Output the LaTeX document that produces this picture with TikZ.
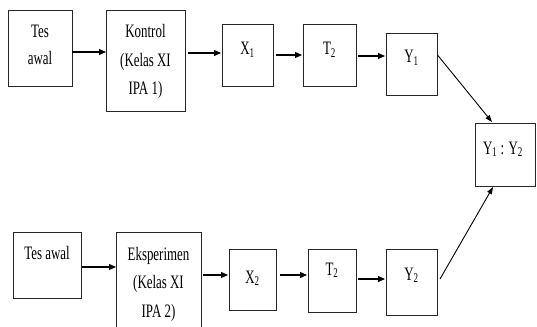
\documentclass[tikz,border=0pt]{standalone}
\usepackage{fontspec}
\setmainfont{Liberation Serif}[FakeStretch=0.68]
\usetikzlibrary{arrows.meta}
\begin{document}
\begin{tikzpicture}[x=1pt,y=-1pt,
  boxstyle/.style={draw=black!85,line width=0.9pt},
  lbl/.style={inner sep=0pt,anchor=base,font=\fontsize{19}{28}\selectfont},
  conn/.style={line width=1.1pt,-{Triangle[length=7pt,width=6pt]}},
  slant/.style={line width=0.9pt,-{Triangle[length=7pt,width=5pt]}}]
\useasboundingbox (0,0) rectangle (537,326);
\clip (0,0) rectangle (537,326);
% top row
\draw[boxstyle] (8,10) rectangle (72,86);
\coordinate (ta1w) at (8,48);
\node[lbl] (ta1a) at (40,38) {Tes};
\node[lbl] (ta1b) at (40,65) {awal};
\draw[boxstyle] (106,10) rectangle (185,111);
\node[lbl] (k1a) at (145.5,38) {Kontrol};
\node[lbl] (k1b) at (145.5,67) {(Kelas XI};
\node[lbl] (k1c) at (145.5,95) {IPA 1)};
\draw[boxstyle] (222,24) rectangle (273,86);
\node[lbl] (x1t) at (247.5,55) {X\textsubscript{1}};
\draw[boxstyle] (303,24) rectangle (356,86);
\node[lbl] (t21t) at (329.5,55) {T\textsubscript{2}};
\draw[boxstyle] (386,33) rectangle (437,95);
\node[lbl] (y1t) at (411.5,63) {Y\textsubscript{1}};
\draw[boxstyle] (475,123) rectangle (535.5,186);
\node[lbl] (yyt) at (503,154) {Y\textsubscript{1} : Y\textsubscript{2}};
% bottom row
\draw[boxstyle] (13,232) rectangle (81,298);
\node[lbl] (ta2t) at (47,259) {Tes awal};
\draw[boxstyle] (116,232) rectangle (201,335);
\node[lbl] (e2a) at (158.5,260) {Eksperimen};
\node[lbl] (e2b) at (158.5,288) {(Kelas XI};
\node[lbl] (e2c) at (158.5,317) {IPA 2)};
\draw[boxstyle] (229,249) rectangle (276,310);
\node[lbl] (x2t) at (252.5,283) {X\textsubscript{2}};
\draw[boxstyle] (308,249) rectangle (356,312);
\node[lbl] (t22t) at (332,275) {T\textsubscript{2}};
\draw[boxstyle] (386,249) rectangle (437,315);
\node[lbl] (y2t) at (411.5,280) {Y\textsubscript{2}};
% connector endpoints
\coordinate (a1s) at (72,52);   \coordinate (a1e) at (106,52);
\coordinate (a2s) at (188,53);  \coordinate (a2e) at (221,53);
\coordinate (a3s) at (276,55);  \coordinate (a3e) at (302,55);
\coordinate (a4s) at (358,56);  \coordinate (a4e) at (385,56);
\coordinate (a5s) at (437.5,55);\coordinate (a5e) at (492,122);
\coordinate (b1s) at (82,267);  \coordinate (b1e) at (116,267);
\coordinate (b2s) at (203,275); \coordinate (b2e) at (228,275);
\coordinate (b3s) at (280,275); \coordinate (b3e) at (307,275);
\coordinate (b4s) at (358,279); \coordinate (b4e) at (385,279);
\coordinate (b5s) at (440,279); \coordinate (b5e) at (493,187);
\draw[conn] (a1s) -- (a1e);
\draw[conn] (a2s) -- (a2e);
\draw[conn] (a3s) -- (a3e);
\draw[conn] (a4s) -- (a4e);
\draw[slant] (a5s) -- (a5e);
\draw[conn] (b1s) -- (b1e);
\draw[conn] (b2s) -- (b2e);
\draw[conn] (b3s) -- (b3e);
\draw[conn] (b4s) -- (b4e);
\draw[slant] (b5s) -- (b5e);
\end{tikzpicture}
\end{document}
